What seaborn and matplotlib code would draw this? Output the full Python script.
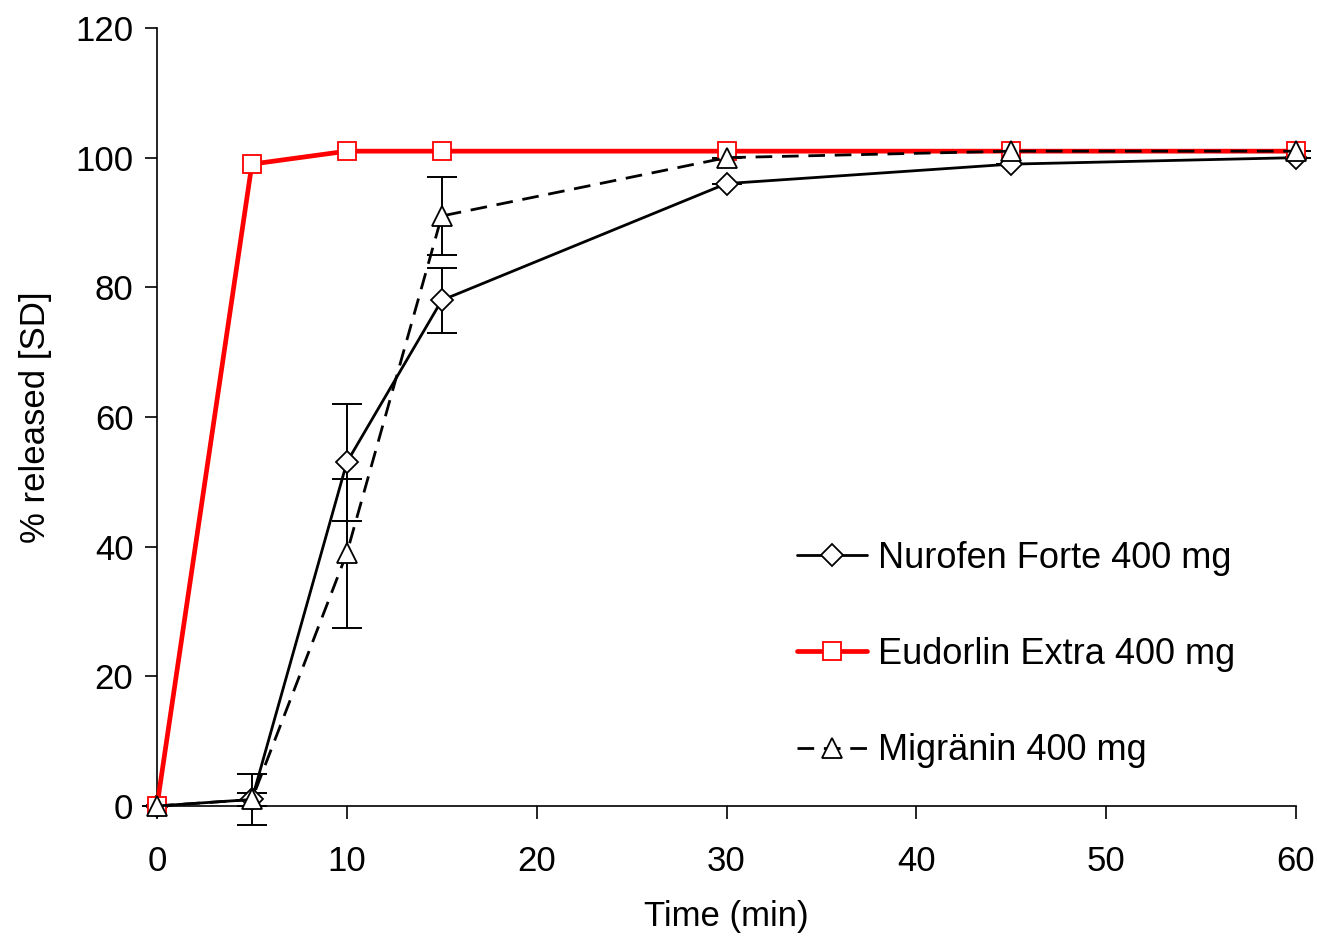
import numpy as np
import pandas as pd
import matplotlib
matplotlib.use("Agg")
import matplotlib.pyplot as plt
import seaborn as sns

# data
time_min = [0, 5, 10, 15, 30, 45, 60]
nurofen = [0, 1, 53, 78, 96, 99, 100]
nurofen_sd = [0, 1, 9, 5, 0, 0, 0]
eudorlin = [0, 99, 101, 101, 101, 101, 101]
migranin = [0, 1, 39, 91, 100, 101, 101]
migranin_sd = [0, 4, 11.5, 6, 0, 0, 0]
labels = ["Nurofen Forte 400 mg", "Eudorlin Extra 400 mg", "Migränin 400 mg"]

sns.set_style("ticks")
plt.rcParams['font.family'] = ['Liberation Sans', 'DejaVu Sans']
plt.rcParams['text.color'] = 'black'
plt.rcParams['axes.labelcolor'] = 'black'
plt.rcParams['xtick.color'] = 'black'
plt.rcParams['ytick.color'] = 'black'
plt.rcParams['axes.edgecolor'] = 'black'

df = pd.DataFrame({"t": time_min, "nur": nurofen, "eud": eudorlin, "mig": migranin})

fig = plt.figure(figsize=(13.17, 9.42), dpi=100)
ax = fig.add_axes([0.1192, 0.1444, 0.8649, 0.8259])

#error bars first so markers sit on top
ax.errorbar(time_min, nurofen, yerr=nurofen_sd, fmt='none', ecolor='black',
            elinewidth=1.4, capsize=11, capthick=1.4, zorder=1, clip_on=False)
ax.errorbar(time_min, migranin, yerr=migranin_sd, fmt='none', ecolor='black',
            elinewidth=1.4, capsize=11, capthick=1.4, zorder=1, clip_on=False)

sns.lineplot(data=df, x="t", y="nur", ax=ax, color='black', lw=2,
             marker='D', markersize=11, markerfacecolor='white',
             markeredgecolor='black', markeredgewidth=1.3,
             label=labels[0], clip_on=False, zorder=3)
sns.lineplot(data=df, x="t", y="eud", ax=ax, color='red', lw=3.4,
             marker='s', markersize=13, markerfacecolor='white',
             markeredgecolor='red', markeredgewidth=1.3,
             label=labels[1], clip_on=False, zorder=4)
sns.lineplot(data=df, x="t", y="mig", ax=ax, color='black', lw=2,
             marker='^', markersize=14, markerfacecolor='white',
             markeredgecolor='black', markeredgewidth=1.3,
             dashes=(6, 3.5), label=labels[2], clip_on=False, zorder=5)

ax.set_xlim(0, 60)
ax.set_ylim(0, 120)
ax.set_xticks([0, 10, 20, 30, 40, 50, 60])
ax.set_yticks([0, 20, 40, 60, 80, 100, 120])
ax.tick_params(axis='both', labelsize=25, direction='out', length=9, width=1.2)
ax.tick_params(axis='x', pad=19)
ax.tick_params(axis='y', pad=8)
sns.despine(ax=ax)
for s in ['left', 'bottom']:
    ax.spines[s].set_linewidth(1.2)

ax.set_xlabel("Time (min)", fontsize=25, labelpad=16)
ax.set_ylabel("% released [SD]", fontsize=25, labelpad=17)

ax.legend(loc='upper left', bbox_to_anchor=(0.533, 0.383), frameon=False,
          fontsize=26, handlelength=1.95, handletextpad=0.3, labelspacing=1.7)

plt.savefig("out.png", dpi=100)
